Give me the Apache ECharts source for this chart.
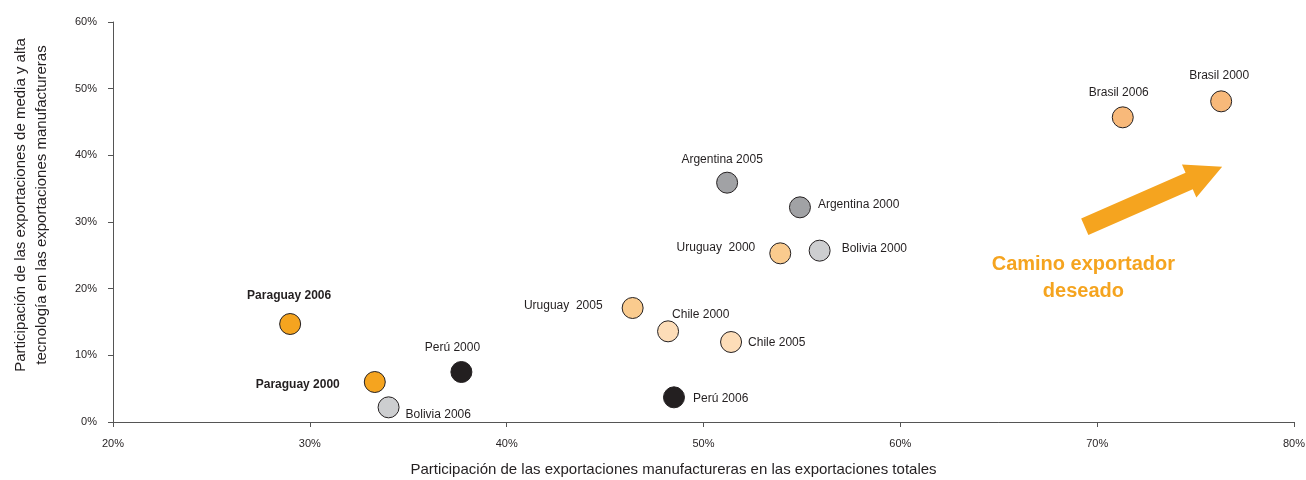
<!DOCTYPE html>
<html>
<head>
<meta charset="utf-8">
<script src="https://cdn.jsdelivr.net/npm/echarts@6/dist/echarts.min.js"></script>
<style>
  html, body { margin: 0; padding: 0; background: #fff; }
  #chart { width: 1306px; height: 480px; }
</style>
</head>
<body>
<div id="chart"></div>
<script>
// Country-year observations
const pointNames = [
  'Paraguay 2006', 'Paraguay 2000', 'Bolivia 2006', 'Perú 2000', 'Perú 2006',
  'Uruguay  2005', 'Chile 2000', 'Chile 2005', 'Uruguay  2000', 'Bolivia 2000',
  'Argentina 2005', 'Argentina 2000', 'Brasil 2006', 'Brasil 2000'
];
// Share of manufactures in total exports (%)
const manufShare = [29.0, 33.3, 34.0, 37.7, 48.5, 46.4, 48.2, 51.4, 53.9, 55.9, 51.2, 54.9, 71.3, 76.3];
// Share of medium/high tech in manufactured exports (%)
const techShare = [14.7, 6.0, 2.2, 7.5, 3.7, 17.1, 13.6, 12.0, 25.3, 25.7, 35.9, 32.2, 45.7, 48.1];

const xTicks = [20, 30, 40, 50, 60, 70, 80];
const yTicks = [0, 10, 20, 30, 40, 50, 60];

// Arrow "Camino exportador deseado" (start, end in axis units)
const arrowStart = [69.37, 29.3];
const arrowEnd = [76.35, 38.3];
const arrowTextAt = [69.3, 25.7];

const countryColor = {
  Paraguay: '#F5A41F',
  Brasil: '#F8B97A',
  Uruguay: '#FACB8E',
  Chile: '#FDDDB8',
  Argentina: '#A1A2A5',
  Bolivia: '#CDCED0',
  'Perú': '#231F20'
};

// label placement per point: [align, dx, dy]
const labelPlace = {
  'Paraguay 2006': ['center', -1, -28],
  'Paraguay 2000': ['right', -35, 3],
  'Bolivia 2006': ['left', 17, 7],
  'Perú 2000': ['center', -9, -24],
  'Perú 2006': ['left', 19, 1],
  'Uruguay  2005': ['right', -30, -2],
  'Chile 2000': ['left', 4, -17],
  'Chile 2005': ['left', 17, 1],
  'Uruguay  2000': ['right', -25, -6],
  'Bolivia 2000': ['left', 22, -2],
  'Argentina 2005': ['center', -5, -23],
  'Argentina 2000': ['left', 18, -3],
  'Brasil 2006': ['center', -4, -25],
  'Brasil 2000': ['center', -2, -26]
};

const FONT = "'Liberation Sans Narrow', 'Arial Narrow', 'Liberation Sans', Arial, sans-serif";
const TEXT = '#231F20';
const ORANGE = '#F5A41F';

const data = pointNames.map((name, i) => {
  const country = name.split(' ')[0];
  const p = labelPlace[name];
  return {
    name: name,
    value: [manufShare[i], techShare[i]],
    itemStyle: { color: countryColor[country] },
    label: {
      show: true,
      position: 'inside',
      align: p[0],
      verticalAlign: 'middle',
      offset: [p[1], p[2]],
      formatter: name,
      color: TEXT,
      fontFamily: FONT,
      fontSize: 12,
      fontWeight: country === 'Paraguay' ? 'bold' : 'normal'
    }
  };
});

const chart = echarts.init(document.getElementById('chart'));

const axisCommon = {
  type: 'value',
  interval: 10,
  splitLine: { show: false },
  axisLine: { show: true, onZero: false, lineStyle: { color: '#555', width: 1 } },
  axisTick: { show: true, inside: false, length: 5, lineStyle: { color: '#555' } }
};

chart.setOption({
  animation: false,
  grid: { left: 113, right: 12, top: 22, bottom: 58, containLabel: false, outerBoundsMode: 'none' },
  xAxis: Object.assign({}, axisCommon, {
    min: xTicks[0], max: xTicks[xTicks.length - 1],
    name: 'Participación de las exportaciones manufactureras en las exportaciones totales',
    nameLocation: 'middle',
    nameGap: 40,
    nameTextStyle: { color: TEXT, fontFamily: FONT, fontSize: 15, padding: [0, 60, 0, 0] },
    axisLabel: { formatter: '{value}%', color: TEXT, fontFamily: FONT, fontSize: 11, margin: 16 }
  }),
  yAxis: Object.assign({}, axisCommon, {
    min: yTicks[0], max: yTicks[yTicks.length - 1],
    name: 'Participación de las exportaciones de media y alta\ntecnología en las exportaciones manufactureras',
    nameLocation: 'middle',
    nameGap: 61,
    nameTextStyle: { color: TEXT, fontFamily: FONT, fontSize: 15, lineHeight: 21, padding: [0, 0, 0, 34] },
    axisLabel: { formatter: '{value}%', color: TEXT, fontFamily: FONT, fontSize: 11, margin: 16 }
  }),
  series: [{
    type: 'scatter',
    symbol: 'circle',
    symbolSize: 21,
    itemStyle: { borderColor: '#231F20', borderWidth: 1, opacity: 1 },
    data: data,
    z: 3
  }]
});

// Arrow polygon built in pixel space from the axis-unit endpoints
function drawArrow() {
  const a = chart.convertToPixel({ gridIndex: 0 }, arrowStart);
  const b = chart.convertToPixel({ gridIndex: 0 }, arrowEnd);
  const dx = b[0] - a[0], dy = b[1] - a[1];
  const len = Math.hypot(dx, dy);
  const ux = dx / len, uy = dy / len;
  const nx = -uy, ny = ux;
  const bodyHalf = 9, headHalf = 18, headLen = 36;
  const hb = [b[0] - ux * headLen, b[1] - uy * headLen];
  const pts = [
    [a[0] + nx * bodyHalf, a[1] + ny * bodyHalf],
    [hb[0] + nx * bodyHalf, hb[1] + ny * bodyHalf],
    [hb[0] + nx * headHalf, hb[1] + ny * headHalf],
    b,
    [hb[0] - nx * headHalf, hb[1] - ny * headHalf],
    [hb[0] - nx * bodyHalf, hb[1] - ny * bodyHalf],
    [a[0] - nx * bodyHalf, a[1] - ny * bodyHalf]
  ];
  const t = chart.convertToPixel({ gridIndex: 0 }, arrowTextAt);
  chart.setOption({
    graphic: [
      { type: 'polygon', shape: { points: pts }, style: { fill: ORANGE }, z: 2 },
      {
        type: 'text', x: t[0], y: t[1], z: 2,
        style: {
          text: 'Camino exportador\ndeseado',
          fill: ORANGE,
          font: "bold 20px 'Liberation Sans', Arial, sans-serif",
          align: 'center',
          verticalAlign: 'top',
          lineHeight: 27
        }
      }
    ]
  });
}
drawArrow();
</script>
</body>
</html>
